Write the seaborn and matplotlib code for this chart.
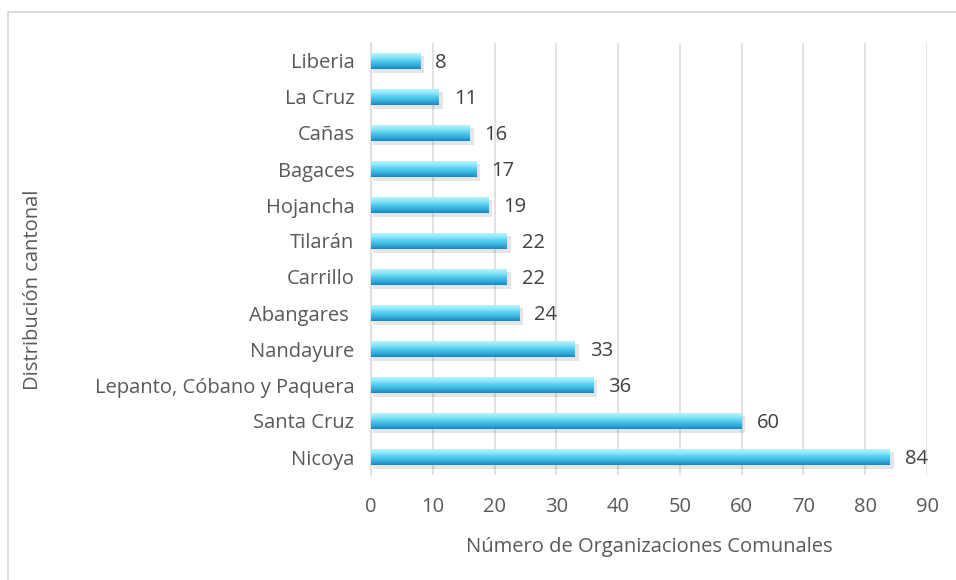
import numpy as np
import pandas as pd
import matplotlib
matplotlib.use("Agg")
import matplotlib.pyplot as plt
import seaborn as sns
from matplotlib.colors import LinearSegmentedColormap
from matplotlib.patches import Rectangle

cantones = ["Liberia", "La Cruz", "Cañas", "Bagaces", "Hojancha", "Tilarán", "Carrillo",
            "Abangares ", "Nandayure", "Lepanto, Cóbano y Paquera", "Santa Cruz", "Nicoya"]
organizaciones = [8, 11, 16, 17, 19, 22, 22, 24, 33, 36, 60, 84]
ticks_x = [0, 10, 20, 30, 40, 50, 60, 70, 80, 90]

df = pd.DataFrame({"Canton": cantones, "Organizaciones": organizaciones})

sns.set_theme(style="white")
plt.rcParams["font.family"] = ["Open Sans", "DejaVu Sans"]
GRAY = "#595959"
FS = 14.5

fig = plt.figure(figsize=(9.56, 5.8), dpi=100)
ax = fig.add_axes([371 / 956, 105 / 580, 556 / 956, 432 / 580])

# chart border (cut at right/bottom like the source)
fig.patches.append(Rectangle((8 / 956, -0.1), 1.2, (568 / 580) + 0.1, transform=fig.transFigure,
                             fill=False, edgecolor="#d9d9d9", linewidth=1.3, zorder=0))

sns.barplot(data=df, y="Canton", x="Organizaciones", orient="h", color="#3fc3ec",
            width=0.47, ax=ax, zorder=3)

cmap = LinearSegmentedColormap.from_list(
    "cyl", [(0, "#b8f8ff"), (0.25, "#92ebfc"), (0.55, "#4cc9f0"), (0.82, "#31a8d8"), (1, "#2283b3")])
grad = np.linspace(0, 1, 64).reshape(-1, 1)
for p in ax.patches:
    x0, y0, w, h = p.get_x(), p.get_y(), p.get_width(), p.get_height()
    # soft shadow
    ax.add_patch(Rectangle((x0 + 0.3, y0 + 0.09), w + 0.3, h, facecolor="#000000",
                           alpha=0.1, linewidth=0, zorder=2))
    im = ax.imshow(grad, cmap=cmap, aspect="auto", extent=(x0, x0 + w, y0 + h, y0),
                   zorder=4, interpolation="bicubic")
    im.set_clip_path(p)
    p.set_edgecolor("none")
    ax.text(x0 + w + 2.4, y0 + h / 2 + 0.05, f"{int(w)}", va="center", ha="left",
            fontsize=FS, color="#404040", zorder=5)

ax.set_xlim(0, 90)
ax.set_ylim(len(cantones) - 0.5, -0.5)
ax.set_xticks(ticks_x)
ax.xaxis.grid(True, color="#d9d9d9", linewidth=1.1, zorder=0)
ax.set_axisbelow(True)
for s in ["top", "right", "bottom"]:
    ax.spines[s].set_visible(False)
ax.spines["left"].set_color("#d9d9d9")
ax.spines["left"].set_linewidth(1.1)
ax.tick_params(axis="both", length=0, labelsize=FS, colors=GRAY)
ax.tick_params(axis="y", pad=12)
ax.tick_params(axis="x", pad=16)

ax.set_xlabel("Número de Organizaciones Comunales", fontsize=FS, color=GRAY, labelpad=14)
ax.set_ylabel("")
fig.text(33 / 956, 0.5, "Distribución cantonal", rotation=90, va="center", ha="center",
         fontsize=FS, color=GRAY)

fig.savefig("out.png", dpi=100)
